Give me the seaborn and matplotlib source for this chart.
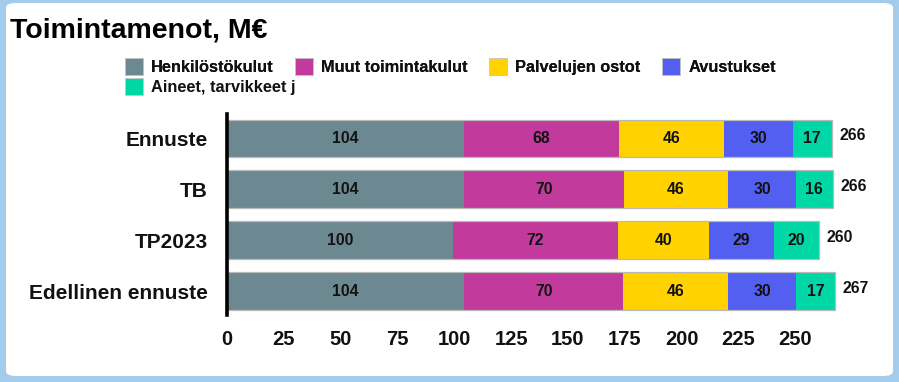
import matplotlib
matplotlib.use("Agg")
import matplotlib.pyplot as plt
from matplotlib.patches import FancyBboxPatch, Patch
import numpy as np
import pandas as pd
import seaborn as sns

# ---- data -------------------------------------------------------------
categories = ["Ennuste", "TB", "TP2023", "Edellinen ennuste"]
series = ["Henkilöstökulut", "Muut toimintakulut", "Palvelujen ostot",
          "Avustukset", "Aineet, tarvikkeet j"]
henkilosto = [104.2, 104.2, 99.6, 104.2]
muut = [68.4, 70.5, 72.2, 70.2]
palvelut = [46.1, 45.6, 40.1, 46.2]
avustukset = [30.2, 30.1, 28.8, 29.9]
aineet = [17.1, 16.0, 19.6, 16.9]
x_ticks = [0, 25, 50, 75, 100, 125, 150, 175, 200, 225, 250]

colors = ["#6c8891", "#c23a9c", "#ffd200", "#535ff0", "#00d7a6"]

values = np.array([henkilosto, muut, palvelut, avustukset, aineet])
cum = values.cumsum(axis=0)
totals = cum[-1]

sns.set_theme(style="white")
plt.rcParams["font.family"] = ["Liberation Sans", "DejaVu Sans"]
plt.rcParams["font.weight"] = "bold"

fig = plt.figure(figsize=(8.99, 3.82), dpi=100)
fig.patch.set_facecolor("#a3cbec")
fig.patches.append(FancyBboxPatch((6 / 899, 6 / 382), 887 / 899, 373 / 382,
                                  boxstyle="round,pad=0,rounding_size=0.012",
                                  transform=fig.transFigure, facecolor="white",
                                  edgecolor="none", zorder=-5))

ax = fig.add_axes([227 / 899, 1 - 315 / 382, (882 - 227) / 899, 201 / 382])
ax.set_facecolor("none")
ax.set_zorder(2)

# stacked layers: draw the longest cumulative bar first, shorter ones on top
for i in range(len(series) - 1, -1, -1):
    df = pd.DataFrame({"cat": categories, "val": cum[i]})
    sns.barplot(data=df, x="val", y="cat", orient="h", color=colors[i],
                saturation=1, width=0.74, linewidth=0, ax=ax)

# thin outline around each full bar
df_tot = pd.DataFrame({"cat": categories, "val": totals})
sns.barplot(data=df_tot, x="val", y="cat", orient="h", fill=False,
            width=0.74, linewidth=0.9, edgecolor="#b9b9b9", ax=ax)

# segment value labels
for i in range(len(series)):
    starts = cum[i] - values[i]
    for j in range(len(categories)):
        ax.text(starts[j] + values[i][j] / 2, j, f"{values[i][j]:.0f}",
                ha="center", va="center", fontsize=11.3, fontweight="bold",
                color="#111111")

# totals at the end of each bar
for j in range(len(categories)):
    ax.text(totals[j] + 3.6, j - 0.05, f"{totals[j]:.0f}", ha="left",
            va="center", fontsize=11.3, fontweight="bold", color="#111111")

ax.set_xlim(0, (882 - 227) / 2.273)
ax.set_ylim(3.47, -0.48)
ax.set_xticks(x_ticks)
ax.set_xticklabels([str(t) for t in x_ticks], fontsize=14.5, fontweight="bold")
ax.set_yticks(range(len(categories)))
ax.set_yticklabels(categories, fontsize=15, fontweight="bold")
ax.set_xlabel("")
ax.set_ylabel("")
ax.tick_params(axis="x", length=0, pad=11, colors="#111111")
ax.tick_params(axis="y", length=0, pad=14, colors="#111111")
for s in ["top", "right", "bottom"]:
    ax.spines[s].set_visible(False)
ax.spines["left"].set_linewidth(2.6)
ax.spines["left"].set_color("#000000")
ax.grid(False)

fig.text(10 / 899, 1 - 38 / 382, "Toimintamenot, M€", fontsize=20.5,
         fontweight="bold", ha="left", va="baseline", color="#000000")

handles = [Patch(facecolor=c, edgecolor="#c8c8c8", linewidth=0.6) for c in colors]
leg_kw = dict(frameon=False, handlelength=1.1, handleheight=1.25,
              handletextpad=0.5, columnspacing=1.3, borderpad=0,
              borderaxespad=0, labelspacing=0.1, labelcolor="#111111",
              prop={"weight": "bold", "size": 11.8})
leg1 = fig.legend(handles[:4], series[:4], ncol=4, loc="upper left",
                  bbox_to_anchor=(125 / 899, 1 - 58 / 382), **leg_kw)
fig.add_artist(leg1)
fig.legend(handles[4:], series[4:], ncol=1, loc="upper left",
           bbox_to_anchor=(125 / 899, 1 - 78 / 382), **leg_kw)

fig.savefig("out.png", dpi=100, facecolor=fig.get_facecolor())
